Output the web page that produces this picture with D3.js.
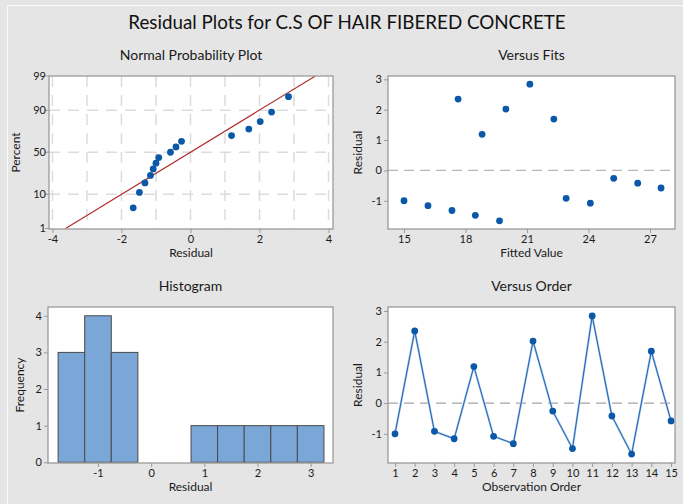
<!DOCTYPE html>
<html><head><meta charset="utf-8">
<script src="https://cdn.jsdelivr.net/npm/d3@7"></script>
<style>body{margin:0;background:#e5e5e5}svg{display:block}text{font-family:Lato,"Open Sans",sans-serif;fill:#1a1a1a}</style>
</head><body><svg id="c" width="683" height="504"></svg>
<script>
// ---- data ----
const observationOrder = [1,2,3,4,5,6,7,8,9,10,11,12,13,14,15];
const residuals = [-1.00, 2.35, -0.92, -1.16, 1.19, -1.08, -1.32, 2.02, -0.26, -1.48, 2.84, -0.42, -1.66, 1.69, -0.58];
const fittedValues = [15.00, 17.64, 22.91, 16.17, 18.81, 24.09, 17.34, 19.97, 25.23, 18.48, 21.14, 26.40, 19.66, 22.31, 27.54];
const nppPercent = [4.5, 11.0, 17.5, 24.0, 30.5, 37.0, 43.5, 50.0, 56.5, 63.0, 69.5, 76.0, 82.5, 89.0, 95.5];
const nppRefX = [-3.62, 3.62];
const nppRefP = [1, 99];
const nppYTicks = [1, 10, 50, 90, 99];
const nppYGrid = [10, 50, 90];
const nppXTicks = [-4, -2, 0, 2, 4];
const nppXGrid = [-4, -3, -2, -1, 0, 1, 2, 3, 4];
const fitsXTicks = [15, 18, 21, 24, 27];
const residTicks = [-1, 0, 1, 2, 3];
const histEdges = [-1.75, -1.25, -0.75, -0.25, 0.25, 0.75, 1.25, 1.75, 2.25, 2.75, 3.25];
const histXTicks = [-1, 0, 1, 2, 3];
const histYTicks = [0, 1, 2, 3, 4];

const svg = d3.select("#c");
svg.append("rect").attr("width",683).attr("height",504).attr("fill","#e5e5e5");
svg.append("path").attr("d","M7.5,504V5.5H683").attr("fill","none").attr("stroke","#fafafa").attr("stroke-width",1);

svg.append("text").attr("x",347).attr("y",29).attr("text-anchor","middle")
  .style("font-size","18.8px").style("fill","#111").text("Residual Plots for C.S OF HAIR FIBERED CONCRETE");

const BLUE = "#0b57a8";
const BORDER = "#9a9a9a";
const fmt = d => String(d);

// probit transform for probability axis
function probit(p){
  const a=[-39.69683028665376,220.9460984245205,-275.9285104469687,138.3577518672690,-30.66479806614716,2.506628277459239];
  const b=[-54.47609879822406,161.5858368580409,-155.6989798598866,66.80131188771972,-13.28068155288572];
  const c=[-0.007784894002430293,-0.3223964580411365,-2.400758277161838,-2.549732539343734,4.374664141464968,2.938163982698783];
  const d=[0.007784695709041462,0.3224671290700398,2.445134137142996,3.754408661907416];
  const pl=0.02425;
  if(p<pl){const q=Math.sqrt(-2*Math.log(p));return (((((c[0]*q+c[1])*q+c[2])*q+c[3])*q+c[4])*q+c[5])/((((d[0]*q+d[1])*q+d[2])*q+d[3])*q+1);}
  if(p>1-pl){const q=Math.sqrt(-2*Math.log(1-p));return -(((((c[0]*q+c[1])*q+c[2])*q+c[3])*q+c[4])*q+c[5])/((((d[0]*q+d[1])*q+d[2])*q+d[3])*q+1);}
  const q=p-0.5,r=q*q;return (((((a[0]*r+a[1])*r+a[2])*r+a[3])*r+a[4])*r+a[5])*q/(((((b[0]*r+b[1])*r+b[2])*r+b[3])*r+b[4])*r+1);
}

function panel(box, title, xlabel, ylabel, yOff){
  const g = svg.append("g");
  g.append("rect").attr("x",box.x0).attr("y",box.y0).attr("width",box.x1-box.x0).attr("height",box.y1-box.y0)
    .attr("fill","#fff");
  g.append("text").attr("x",(box.x0+box.x1)/2).attr("y",box.y0-16).attr("text-anchor","middle")
    .style("font-size","14px").text(title);
  g.append("text").attr("x",(box.x0+box.x1)/2).attr("y",box.y1+28).attr("text-anchor","middle")
    .style("font-size","12px").text(xlabel);
  g.append("text").attr("transform",`translate(${box.x0-yOff},${(box.y0+box.y1)/2}) rotate(-90)`).attr("text-anchor","middle")
    .style("font-size","12px").text(ylabel);
  return g;
}
function frame(g, box){
  g.append("rect").attr("x",box.x0).attr("y",box.y0).attr("width",box.x1-box.x0).attr("height",box.y1-box.y0)
    .attr("fill","none").attr("stroke",BORDER).attr("stroke-width",1.3);
}
function styleAxis(a){
  a.select(".domain").remove();a.selectAll("line").attr("stroke",BORDER);
  a.selectAll("text").attr("fill","#1a1a1a").style("font-size","11px").style("font-family","Lato,sans-serif");
}
function axes(g, box, x, y, xt, yt){
  const ax = g.append("g").attr("transform",`translate(0,${box.y1})`)
    .call(d3.axisBottom(x).tickValues(xt).tickSize(4).tickPadding(2).tickFormat(fmt));
  const ay = g.append("g").attr("transform",`translate(${box.x0},0)`)
    .call(d3.axisLeft(y).tickValues(yt).tickSize(4).tickPadding(2).tickFormat(fmt));
  styleAxis(ax); styleAxis(ay);
}
function dots(g, data, fx, fy){
  g.selectAll(null).data(data).join("circle").attr("cx",fx).attr("cy",fy).attr("r",3.4).attr("fill",BLUE);
}

// 1. Normal probability plot
{
  const box={x0:49,x1:333,y0:76,y1:229};
  const g=panel(box,"Normal Probability Plot","Residual","Percent",29);
  const x=d3.scaleLinear().domain([-4.1,4.13]).range([box.x0,box.x1]);
  const yl=d3.scaleLinear().domain([probit(0.01),probit(0.99)]).range([box.y1-0.5,box.y0]);
  const y=p=>yl(probit(p/100));
  g.selectAll(null).data(nppXGrid).join("line").attr("x1",d=>x(d)).attr("x2",d=>x(d)).attr("y1",box.y0).attr("y2",box.y1)
    .attr("stroke","#dcdcdc").attr("stroke-width",1.5).attr("stroke-dasharray","11,8");
  g.selectAll(null).data(nppYGrid).join("line").attr("y1",d=>y(d)).attr("y2",d=>y(d)).attr("x1",box.x0).attr("x2",box.x1)
    .attr("stroke","#dcdcdc").attr("stroke-width",1.5).attr("stroke-dasharray","11,8");
  g.append("line").attr("x1",x(nppRefX[0])).attr("y1",y(nppRefP[0])).attr("x2",x(nppRefX[1])).attr("y2",y(nppRefP[1]))
    .attr("stroke","#b02a2a").attr("stroke-width",1.1);
  const sorted=residuals.slice().sort(d3.ascending);
  dots(g, sorted, d=>x(d), (d,i)=>y(nppPercent[i]));
  frame(g,box);
  const ax=g.append("g").attr("transform",`translate(0,${box.y1})`).call(d3.axisBottom(x).tickValues(nppXTicks).tickSize(4).tickPadding(2).tickFormat(fmt));
  styleAxis(ax);
  const ay=g.append("g");
  nppYTicks.forEach(t=>{
    ay.append("line").attr("x1",box.x0-4).attr("x2",box.x0).attr("y1",y(t)).attr("y2",y(t)).attr("stroke",BORDER);
    ay.append("text").attr("x",box.x0-3).attr("y",y(t)).attr("dy","0.35em").attr("text-anchor","end").style("font-size","11px").text(t);
  });
}

// 2. Versus Fits
{
  const box={x0:388,x1:675,y0:76,y1:229};
  const g=panel(box,"Versus Fits","Fitted Value","Residual",26);
  const x=d3.scaleLinear().domain([14.22,28.22]).range([box.x0,box.x1]);
  const y=d3.scaleLinear().domain([-1.93,3.11]).range([box.y1,box.y0]);
  g.append("line").attr("x1",box.x0).attr("x2",box.x1).attr("y1",y(0)).attr("y2",y(0))
    .attr("stroke","#b5b5b5").attr("stroke-width",1.3).attr("stroke-dasharray","10,6");
  dots(g, residuals, (d,i)=>x(fittedValues[i]), d=>y(d));
  frame(g,box);
  axes(g,box,x,y,fitsXTicks,residTicks);
}

// 3. Histogram
{
  const box={x0:48,x1:333,y0:307,y1:463};
  const g=panel(box,"Histogram","Residual","Frequency",24);
  const x=d3.scaleLinear().domain([-1.94,3.42]).range([box.x0,box.x1]);
  const y=d3.scaleLinear().domain([-0.02,4.24]).range([box.y1,box.y0]);
  const bins=d3.bin().domain([histEdges[0],histEdges[histEdges.length-1]]).thresholds(histEdges.slice(1,-1))(residuals);
  g.selectAll(null).data(bins).join("rect").attr("x",d=>x(d.x0)).attr("width",d=>x(d.x1)-x(d.x0))
    .attr("y",d=>y(d.length)).attr("height",d=>y(0)-y(d.length))
    .attr("fill","#7ba6d8").attr("stroke","#4a4a4a").attr("stroke-width",1);
  frame(g,box);
  axes(g,box,x,y,histXTicks,histYTicks);
}

// 4. Versus Order
{
  const box={x0:388,x1:675,y0:307,y1:463};
  const g=panel(box,"Versus Order","Observation Order","Residual",26);
  const x=d3.scaleLinear().domain([0.645,15.2]).range([box.x0,box.x1]);
  const y=d3.scaleLinear().domain([-1.95,3.13]).range([box.y1,box.y0]);
  g.append("line").attr("x1",box.x0).attr("x2",box.x1).attr("y1",y(0)).attr("y2",y(0))
    .attr("stroke","#a5a5a5").attr("stroke-width",1.3).attr("stroke-dasharray","10,6");
  const line=d3.line().x((d,i)=>x(observationOrder[i])).y(d=>y(d));
  g.append("path").attr("d",line(residuals)).attr("fill","none").attr("stroke","#a9c8ea").attr("stroke-width",2.2);
  g.append("path").attr("d",line(residuals)).attr("fill","none").attr("stroke","#1f64b4").attr("stroke-width",1);
  dots(g, residuals, (d,i)=>x(observationOrder[i]), d=>y(d));
  frame(g,box);
  axes(g,box,x,y,observationOrder,residTicks);
}
</script></body></html>
